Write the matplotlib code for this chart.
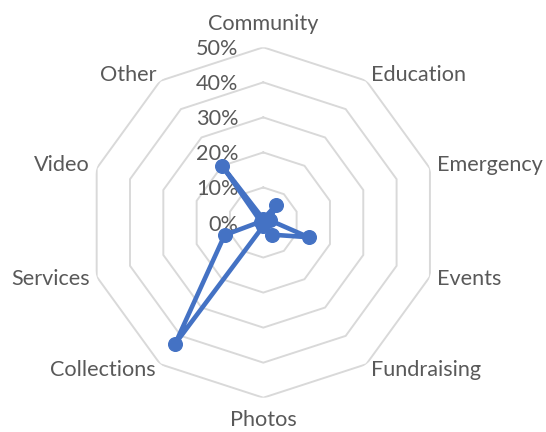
import numpy as np
import matplotlib
matplotlib.use("Agg")
import matplotlib.pyplot as plt

categories = ["Community", "Education", "Emergency", "Events", "Fundraising",
              "Photos", "Collections", "Services", "Video", "Other"]
values = [1.0, 6.0, 2.0, 13.6, 4.3, 1.0, 42.8, 11.6, 0.8, 19.9]
ring_levels = [0, 10, 20, 30, 40, 50]
ring_labels = ["0%", "10%", "20%", "30%", "40%", "50%"]

# label offsets (pixels) from outer vertex, alignment
label_offsets = [(0, 17), (5, 0), (7, -3), (7, -8), (5, -12),
                 (0, -28), (-5, -12), (-7, -8), (-7, -3), (-4, 0)]
label_ha = ["center", "left", "left", "left", "left",
            "center", "right", "right", "right", "right"]

plt.rcParams['font.family'] = ['Lato', 'DejaVu Sans']
text_color = "#595959"
grid_color = "#D9D9D9"
line_color = "#4472C4"
fs = 15.6

fig = plt.figure(figsize=(5.46, 4.32), dpi=100)
cx, cy, R = 263.3, 222.5, 175.2
W, H = 546, 432
ax = fig.add_axes([(cx - R) / W, (H - cy - R) / H, 2 * R / W, 2 * R / H], polar=True)
ax.set_theta_zero_location("N")
ax.set_theta_direction(-1)
ax.set_ylim(0, 50)
ax.grid(False)
ax.spines['polar'].set_visible(False)
ax.set_xticks([])
ax.set_yticks([])
ax.patch.set_alpha(0)

n = len(categories)
angles = np.arange(n) * 2 * np.pi / n
closed = np.append(angles, angles[0])

for lvl in ring_levels[1:]:
    ax.plot(closed, [lvl] * (n + 1), color=grid_color, lw=1.4, zorder=1,
            solid_joinstyle='miter')

vals = np.append(values, values[0])
ax.plot(closed, vals, color=line_color, lw=3.3, zorder=3, solid_joinstyle='round',
        solid_capstyle='round')
ax.plot(angles, values, 'o', color=line_color, markersize=9.8, zorder=4)

for a, cat, off, ha in zip(angles, categories, label_offsets, label_ha):
    ax.annotate(cat, xy=(a, 50), xytext=off, textcoords='offset pixels',
                ha=ha, va='baseline', fontsize=fs, color=text_color,
                annotation_clip=False)

for lvl, lab in zip(ring_levels, ring_labels):
    ax.annotate(lab, xy=(0, lvl), xytext=(-25, -8), textcoords='offset pixels',
                ha='right', va='baseline', fontsize=fs, color=text_color,
                annotation_clip=False, zorder=2)

fig.savefig("out.png", dpi=100)
